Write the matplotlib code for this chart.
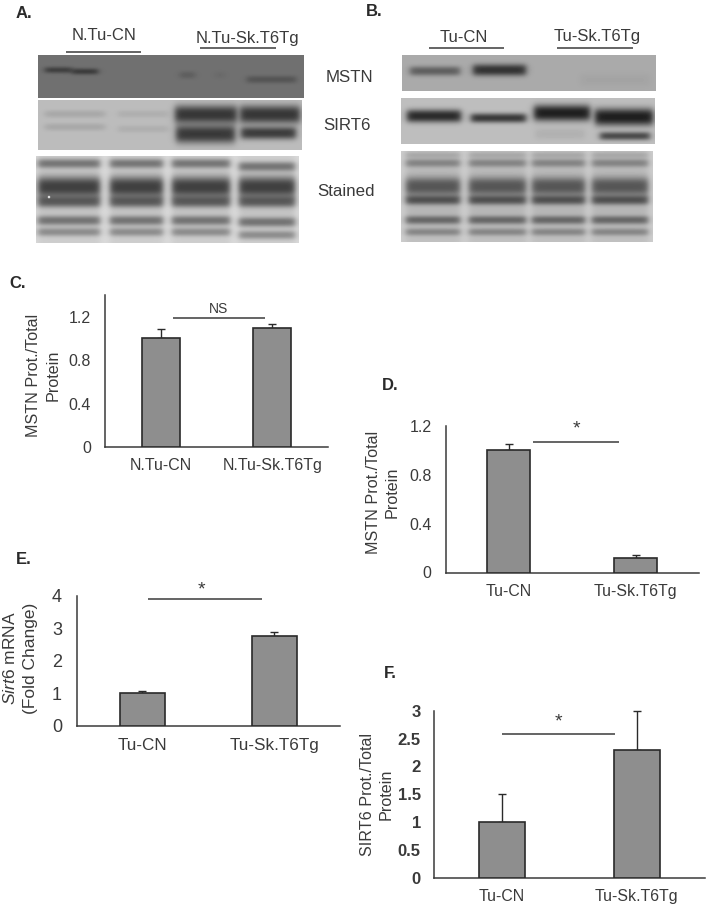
import numpy as np
import matplotlib
matplotlib.use("Agg")
import matplotlib.pyplot as plt

plt.rcParams['font.family'] = ['Liberation Sans', 'DejaVu Sans']
plt.rcParams['mathtext.fontset'] = 'custom'
plt.rcParams['mathtext.it'] = 'Liberation Sans:italic'
plt.rcParams['mathtext.rm'] = 'Liberation Sans'

W, H = 709, 907
INK = '#3a3a3a'
BAR = '#8e8e8e'
EDGE = '#2a2a2a'

# ---- bar chart data
cats_c = ['N.Tu-CN', 'N.Tu-Sk.T6Tg']
cats_t = ['Tu-CN', 'Tu-Sk.T6Tg']
vals_c = [1.0, 1.10]
errs_c = [0.09, 0.035]
vals_d = [1.0, 0.12]
errs_d = [0.05, 0.02]
vals_e = [1.0, 2.75]
errs_e = [0.08, 0.15]
vals_f = [1.0, 2.3]
errs_f = [0.5, 0.7]
ticks_c = [0, 0.4, 0.8, 1.2]
ticklabels_c = ['0', '0.4', '0.8', '1.2']
ticks_e = [0, 1, 2, 3, 4]
ticklabels_e = ['0', '1', '2', '3', '4']
ticks_f = [0, 0.5, 1, 1.5, 2, 2.5, 3]
ticklabels_f = ['0', '0.5', '1', '1.5', '2', '2.5', '3']

# ---- blot bands: (x0, x1, y, half-thickness, darkness)
a_mstn = [(45, 72, 70, 2.5, .6), (72, 98, 71.5, 2.5, .65), (180, 195, 75, 3, .22),
          (247, 296, 79.5, 3, .33), (215, 225, 75, 3, .08)]
a_sirt = [(45, 105, 114, 3, .15), (45, 105, 127, 3, .15), (118, 168, 114, 3, .1),
          (118, 168, 129, 3, .1), (175, 237, 114.5, 8, .97), (240, 300, 114.5, 8, .97),
          (176, 235, 134, 8, .95), (241, 296, 133, 5.5, .93)]
a_stain = []
for x0, x1, dy in [(38, 100, 0), (110, 163, 0), (172, 230, 0), (239, 295, 3)]:
    a_stain += [(x0, x1, 200, 45, .13), (x0, x1, 163.5 + dy, 4, .55), (x0, x1, 187, 9, .88),
                (x0, x1, 201.5, 5, .7), (x0, x1, 220.5 + dy / 2, 4, .55), (x0, x1, 232 + dy, 3.5, .4)]
b_mstn = [(410, 460, 71, 4, .5), (473, 526, 70, 5, .8), (580, 650, 80, 6, .04)]
b_sirt = [(407, 461, 116, 5.5, .9), (471, 526, 118, 4, .82), (534, 590, 113, 7, .97),
          (595, 653, 117, 7.5, .97), (600, 650, 136, 3.5, .72), (535, 585, 134, 5, .08)]
b_stain = []
for x0, x1 in [(406, 460), (469, 526), (532, 585), (592, 648)]:
    b_stain += [(x0, x1, 200, 45, .14), (x0, x1, 155, 2.5, .18), (x0, x1, 163, 3.5, .4),
                (x0, x1, 186.5, 8, .68), (x0, x1, 200, 4, .72), (x0, x1, 220, 3.5, .58), (x0, x1, 232, 3, .38)]


def blot(fig, box, bg, floor, bands, spots=()):
    x0, y0, x1, y1 = box
    xs = np.arange(x0, x1) + .5
    ys = np.arange(y0, y1) + .5
    X, Y = np.meshgrid(xs, ys)
    keep = np.ones_like(X)
    for a, b, yc, th, d in bands:
        px = .5 * (np.tanh((X - a) / 3.5) - np.tanh((X - b) / 3.5))
        py = np.exp(-np.abs((Y - yc) / th) ** 2.6 * .7)
        keep *= 1 - d * px * py
    img = floor + (bg - floor) * keep
    k = np.exp(-np.arange(-3, 4) ** 2 / (2 * 1.1 ** 2))
    k /= k.sum()
    pad = np.pad(img, 3, mode='edge')
    pad = np.apply_along_axis(lambda v: np.convolve(v, k, mode='same'), 0, pad)
    pad = np.apply_along_axis(lambda v: np.convolve(v, k, mode='same'), 1, pad)
    img = pad[3:-3, 3:-3]
    for sx, sy, r, v in spots:
        img = np.maximum(img, v * np.exp(-((X - sx) ** 2 + (Y - sy) ** 2) / (r * r)))
    ax = fig.add_axes([x0 / W, 1 - y1 / H, (x1 - x0) / W, (y1 - y0) / H])
    ax.imshow(img, cmap='gray', vmin=0, vmax=255, aspect='auto', interpolation='bilinear')
    ax.axis('off')


def bars(fig, box, cats, vals, errs, ymax, ticks, labels, pad, xpad, tsize, xsize, bold=False, w=.34):
    x0, ytop, x1, ybot = box
    ax = fig.add_axes([x0 / W, 1 - ybot / H, (x1 - x0) / W, (ybot - ytop) / H])
    pos = np.arange(len(cats))
    ax.bar(pos, vals, width=w, color=BAR, edgecolor=EDGE, linewidth=1.2, zorder=3)
    ax.errorbar(pos, vals, yerr=[np.zeros(len(vals)), errs], fmt='none', ecolor=EDGE,
                elinewidth=1.0, capsize=2.6, capthick=1.0, zorder=2, clip_on=False)
    ax.set_xlim(-.5, len(cats) - .5)
    ax.set_ylim(0, ymax)
    ax.set_yticks(ticks)
    ax.set_yticklabels(labels, fontsize=tsize, color=INK, fontweight='bold' if bold else 'normal')
    ax.set_xticks(pos)
    ax.set_xticklabels(cats, fontsize=xsize, color=INK)
    ax.tick_params(axis='y', length=0, pad=pad)
    ax.tick_params(axis='x', length=0, pad=xpad)
    for s in ('top', 'right'):
        ax.spines[s].set_visible(False)
    for s in ('left', 'bottom'):
        ax.spines[s].set_color(INK)
        ax.spines[s].set_linewidth(1.1)
    ax.patch.set_alpha(0)
    return ax


fig = plt.figure(figsize=(W / 100, H / 100), dpi=100, facecolor='white')

blot(fig, (38, 55, 304, 98), 112, 25, a_mstn)
blot(fig, (38, 100, 302, 150), 188, 50, a_sirt)
blot(fig, (36, 156, 299, 243), 218, 45, a_stain, spots=[(49, 197, 1.8, 255)])
blot(fig, (402, 55, 656, 91), 170, 20, b_mstn)
blot(fig, (401, 98, 655, 144), 190, 25, b_sirt)
blot(fig, (401, 151, 653, 242), 205, 40, b_stain)

bars(fig, (105, 295, 328, 447), cats_c, vals_c, errs_c, 1.4, ticks_c, ticklabels_c, 10, 8, 11.5, 11.5)
bars(fig, (445.5, 426, 699, 572.5), cats_t, vals_d, errs_d, 1.2, ticks_c, ticklabels_c, 10, 8, 11.5, 11.4)
bars(fig, (76.5, 596, 340, 725.5), cats_t, vals_e, errs_e, 4, ticks_e, ticklabels_e, 10.5, 9, 13, 12.3)
bars(fig, (434, 710.7, 704.5, 877.7), cats_t, vals_f, errs_f, 3, ticks_f, ticklabels_f, 9.5, 8, 12, 11.4, bold=True)

ov = fig.add_axes([0, 0, 1, 1])
ov.set_xlim(0, W)
ov.set_ylim(H, 0)
ov.axis('off')
ov.patch.set_alpha(0)


def t(x, y, s, size=12, **kw):
    kw.setdefault('color', INK)
    ov.text(x, y, s, fontsize=size, ha='center', va='center', **kw)


def rule(x0, x1, y, lw=1.1):
    ov.plot([x0, x1], [y, y], color=INK, lw=lw, solid_capstyle='butt')


for x, y, s in [(24, 14, 'A.'), (374, 12, 'B.'), (18, 283, 'C.'), (390, 386, 'D.'), (24, 560, 'E.'), (390, 673, 'F.')]:
    t(x, y, s, 12, fontweight='bold', color='#2a2a2a')

t(104, 36, 'N.Tu-CN')
rule(66, 141, 51.5)
t(247, 38, 'N.Tu-Sk.T6Tg')
rule(200, 276, 48)
t(464, 37, 'Tu-CN')
rule(429, 504, 48)
t(597, 36, 'Tu-Sk.T6Tg')
rule(557, 633, 48)
t(349, 78, 'MSTN', 12.2)
t(347, 125, 'SIRT6', 12.2)
t(346, 192, 'Stained', 12.2)

t(34, 375, 'MSTN Prot./Total', 11.6, rotation=90)
t(53, 375, 'Protein', 11.6, rotation=90)
t(373, 492, 'MSTN Prot./Total', 11.6, rotation=90)
t(392, 492, 'Protein', 11.6, rotation=90)
t(10, 658, r'$\mathit{Sirt6}$ mRNA', 12.5, rotation=90)
t(30, 658, '(Fold Change)', 12.5, rotation=90)
t(367, 794, 'SIRT6 Prot./Total', 11.6, rotation=90)
t(386, 794, 'Protein', 11.6, rotation=90)

rule(173, 265, 318)
t(218, 309, 'NS', 10)
rule(533, 619, 442)
t(576, 429, '*', 14)
rule(148, 262, 598.7)
t(201, 590, '*', 14)
rule(501.7, 615, 734)
t(558, 721.5, '*', 14)

fig.savefig('out.png', dpi=100, facecolor='white')
